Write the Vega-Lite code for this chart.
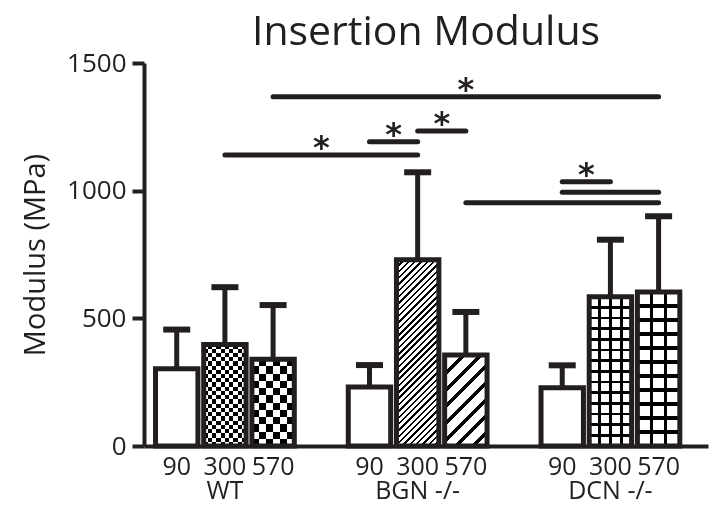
{
"$schema":"https://vega.github.io/schema/vega-lite/v6.json",
"width":564,"height":383,
"autosize":{"type":"none"},
"padding":{"left":144,"top":63,"right":6,"bottom":59},
"background":"white",
"config":{"view":{"stroke":null}},
"title":{"text":"Insertion Modulus","font":"Open Sans","fontSize":41,"fontWeight":"normal","color":"#231f20","anchor":"middle","frame":"group","baseline":"alphabetic","offset":5,"dy":41},
"datasets":{
"bars":[
{"bar":"WT 90","value":303,"err":456},
{"bar":"WT 300","value":398,"err":622},
{"bar":"WT 570","value":340,"err":552},
{"bar":"BGN 90","value":231,"err":317},
{"bar":"BGN 300","value":729,"err":1072},
{"bar":"BGN 570","value":356,"err":525},
{"bar":"DCN 90","value":228,"err":316},
{"bar":"DCN 300","value":585,"err":808},
{"bar":"DCN 570","value":603,"err":900}
],
"sig":[
{"from":"WT 570","to":"DCN 570","level":1368},
{"from":"WT 300","to":"BGN 300","level":1140},
{"from":"BGN 90","to":"BGN 300","level":1192},
{"from":"BGN 300","to":"BGN 570","level":1234},
{"from":"DCN 90","to":"DCN 300","level":1035},
{"from":"DCN 90","to":"DCN 570","level":994},
{"from":"BGN 570","to":"DCN 570","level":953}
],
"stars":[
{"at":"BGN 570","level":1368,"between":false},
{"at":"s1","level":1140,"between":false},
{"at":"BGN 90","level":1192,"between":true},
{"at":"BGN 300","level":1234,"between":true},
{"at":"DCN 90","level":1035,"between":true}
]
},
"data":{"name":"bars"},
"layer":[
{"mark":{"type":"bar","fill":"white"},
 "encoding":{
  "x":{"field":"bar","type":"nominal","scale":{"domain":["WT 90","WT 300","WT 570","s1","BGN 90","BGN 300","BGN 570","s2","DCN 90","DCN 300","DCN 570"],"paddingInner":0.12,"paddingOuter":0.412,"align":0.29},
   "axis":{"orient":"bottom","title":null,"domain":true,"domainWidth":4,"domainColor":"#231f20","ticks":false,"tickSize":0,"labelFont":"Open Sans","labelFontSize":25,"labelLineHeight":24,"labelColor":"#231f20","labelPadding":8,"labelAngle":0,"labelOverlap":false,"grid":false,"labelExpr":"datum.value == 'WT 300' ? ['300','WT'] : datum.value == 'BGN 300' ? ['300','BGN -/-'] : datum.value == 'DCN 300' ? ['300','DCN -/-'] : (indexof(datum.value,' ') > 0 ? split(datum.value,' ')[1] : '')"}},
  "y":{"field":"value","type":"quantitative","scale":{"domain":[0,1500],"nice":false,"zero":true},
   "axis":{"title":"Modulus (MPa)","values":[0,500,1000,1500],"format":"d","grid":false,"domainWidth":4,"domainColor":"#231f20","tickWidth":4,"tickSize":12,"tickColor":"#231f20","labelFont":"Open Sans","labelFontSize":26,"labelColor":"#231f20","labelPadding":6,"titleFont":"Open Sans","titleFontSize":29,"titleFontWeight":"normal","titleColor":"#231f20","titlePadding":16}}
 }},
{"transform":[{"filter":"datum.bar == 'WT 300'"}],
 "mark":{"type":"bar","fill":{"gradient":"linear","x1":0,"y1":0,"x2":1,"y2":0,"stops":[{"offset":0,"color":"#000"},{"offset":0.1,"color":"#000"},{"offset":0.1,"color":"#fff"},{"offset":0.2,"color":"#fff"},{"offset":0.2,"color":"#000"},{"offset":0.3,"color":"#000"},{"offset":0.3,"color":"#fff"},{"offset":0.4,"color":"#fff"},{"offset":0.4,"color":"#000"},{"offset":0.5,"color":"#000"},{"offset":0.5,"color":"#fff"},{"offset":0.6,"color":"#fff"},{"offset":0.6,"color":"#000"},{"offset":0.7,"color":"#000"},{"offset":0.7,"color":"#fff"},{"offset":0.8,"color":"#fff"},{"offset":0.8,"color":"#000"},{"offset":0.9,"color":"#000"},{"offset":0.9,"color":"#fff"},{"offset":1,"color":"#fff"}]}},
 "encoding":{"x":{"field":"bar","type":"nominal","scale":{"domain":["WT 90","WT 300","WT 570","s1","BGN 90","BGN 300","BGN 570","s2","DCN 90","DCN 300","DCN 570"],"paddingInner":0.12,"paddingOuter":0.412,"align":0.29}},"y":{"field":"value","type":"quantitative","scale":{"domain":[0,1500],"nice":false,"zero":true}}}},
{"transform":[{"filter":"datum.bar == 'WT 300'"}],
 "mark":{"type":"bar","blend":"difference","fill":{"gradient":"linear","x1":0,"y1":0,"x2":0,"y2":1,"stops":[{"offset":0,"color":"#fff"},{"offset":0.0417,"color":"#fff"},{"offset":0.0417,"color":"#000"},{"offset":0.0833,"color":"#000"},{"offset":0.0833,"color":"#fff"},{"offset":0.125,"color":"#fff"},{"offset":0.125,"color":"#000"},{"offset":0.1667,"color":"#000"},{"offset":0.1667,"color":"#fff"},{"offset":0.2083,"color":"#fff"},{"offset":0.2083,"color":"#000"},{"offset":0.25,"color":"#000"},{"offset":0.25,"color":"#fff"},{"offset":0.2917,"color":"#fff"},{"offset":0.2917,"color":"#000"},{"offset":0.3333,"color":"#000"},{"offset":0.3333,"color":"#fff"},{"offset":0.375,"color":"#fff"},{"offset":0.375,"color":"#000"},{"offset":0.4167,"color":"#000"},{"offset":0.4167,"color":"#fff"},{"offset":0.4583,"color":"#fff"},{"offset":0.4583,"color":"#000"},{"offset":0.5,"color":"#000"},{"offset":0.5,"color":"#fff"},{"offset":0.5417,"color":"#fff"},{"offset":0.5417,"color":"#000"},{"offset":0.5833,"color":"#000"},{"offset":0.5833,"color":"#fff"},{"offset":0.625,"color":"#fff"},{"offset":0.625,"color":"#000"},{"offset":0.6667,"color":"#000"},{"offset":0.6667,"color":"#fff"},{"offset":0.7083,"color":"#fff"},{"offset":0.7083,"color":"#000"},{"offset":0.75,"color":"#000"},{"offset":0.75,"color":"#fff"},{"offset":0.7917,"color":"#fff"},{"offset":0.7917,"color":"#000"},{"offset":0.8333,"color":"#000"},{"offset":0.8333,"color":"#fff"},{"offset":0.875,"color":"#fff"},{"offset":0.875,"color":"#000"},{"offset":0.9167,"color":"#000"},{"offset":0.9167,"color":"#fff"},{"offset":0.9583,"color":"#fff"},{"offset":0.9583,"color":"#000"},{"offset":1,"color":"#000"}]}},
 "encoding":{"x":{"field":"bar","type":"nominal","scale":{"domain":["WT 90","WT 300","WT 570","s1","BGN 90","BGN 300","BGN 570","s2","DCN 90","DCN 300","DCN 570"],"paddingInner":0.12,"paddingOuter":0.412,"align":0.29}},"y":{"field":"value","type":"quantitative","scale":{"domain":[0,1500],"nice":false,"zero":true}}}},
{"transform":[{"filter":"datum.bar == 'WT 570'"}],
 "mark":{"type":"bar","fill":{"gradient":"linear","x1":0,"y1":0,"x2":1,"y2":0,"stops":[{"offset":0,"color":"#000"},{"offset":0.1667,"color":"#000"},{"offset":0.1667,"color":"#fff"},{"offset":0.3333,"color":"#fff"},{"offset":0.3333,"color":"#000"},{"offset":0.5,"color":"#000"},{"offset":0.5,"color":"#fff"},{"offset":0.6667,"color":"#fff"},{"offset":0.6667,"color":"#000"},{"offset":0.8333,"color":"#000"},{"offset":0.8333,"color":"#fff"},{"offset":1,"color":"#fff"}]}},
 "encoding":{"x":{"field":"bar","type":"nominal","scale":{"domain":["WT 90","WT 300","WT 570","s1","BGN 90","BGN 300","BGN 570","s2","DCN 90","DCN 300","DCN 570"],"paddingInner":0.12,"paddingOuter":0.412,"align":0.29}},"y":{"field":"value","type":"quantitative","scale":{"domain":[0,1500],"nice":false,"zero":true}}}},
{"transform":[{"filter":"datum.bar == 'WT 570'"}],
 "mark":{"type":"bar","blend":"difference","fill":{"gradient":"linear","x1":0,"y1":0,"x2":0,"y2":1,"stops":[{"offset":0,"color":"#fff"},{"offset":0.0833,"color":"#fff"},{"offset":0.0833,"color":"#000"},{"offset":0.1667,"color":"#000"},{"offset":0.1667,"color":"#fff"},{"offset":0.25,"color":"#fff"},{"offset":0.25,"color":"#000"},{"offset":0.3333,"color":"#000"},{"offset":0.3333,"color":"#fff"},{"offset":0.4167,"color":"#fff"},{"offset":0.4167,"color":"#000"},{"offset":0.5,"color":"#000"},{"offset":0.5,"color":"#fff"},{"offset":0.5833,"color":"#fff"},{"offset":0.5833,"color":"#000"},{"offset":0.6667,"color":"#000"},{"offset":0.6667,"color":"#fff"},{"offset":0.75,"color":"#fff"},{"offset":0.75,"color":"#000"},{"offset":0.8333,"color":"#000"},{"offset":0.8333,"color":"#fff"},{"offset":0.9167,"color":"#fff"},{"offset":0.9167,"color":"#000"},{"offset":1,"color":"#000"}]}},
 "encoding":{"x":{"field":"bar","type":"nominal","scale":{"domain":["WT 90","WT 300","WT 570","s1","BGN 90","BGN 300","BGN 570","s2","DCN 90","DCN 300","DCN 570"],"paddingInner":0.12,"paddingOuter":0.412,"align":0.29}},"y":{"field":"value","type":"quantitative","scale":{"domain":[0,1500],"nice":false,"zero":true}}}},
{"transform":[{"filter":"datum.bar == 'BGN 300'"}],
 "mark":{"type":"bar","fill":{"gradient":"linear","x1":0,"y1":0,"x2":0.2659,"y2":1.1672,"stops":[
{"offset":0,"color":"#000"},{"offset":0.011,"color":"#000"},{"offset":0.011,"color":"#fff"},{"offset":0.0278,"color":"#fff"},
{"offset":0.0278,"color":"#000"},{"offset":0.0388,"color":"#000"},{"offset":0.0388,"color":"#fff"},{"offset":0.0556,"color":"#fff"},
{"offset":0.0556,"color":"#000"},{"offset":0.0666,"color":"#000"},{"offset":0.0666,"color":"#fff"},{"offset":0.0833,"color":"#fff"},
{"offset":0.0833,"color":"#000"},{"offset":0.0943,"color":"#000"},{"offset":0.0943,"color":"#fff"},{"offset":0.1111,"color":"#fff"},
{"offset":0.1111,"color":"#000"},{"offset":0.1221,"color":"#000"},{"offset":0.1221,"color":"#fff"},{"offset":0.1389,"color":"#fff"},
{"offset":0.1389,"color":"#000"},{"offset":0.1499,"color":"#000"},{"offset":0.1499,"color":"#fff"},{"offset":0.1667,"color":"#fff"},
{"offset":0.1667,"color":"#000"},{"offset":0.1777,"color":"#000"},{"offset":0.1777,"color":"#fff"},{"offset":0.1944,"color":"#fff"},
{"offset":0.1944,"color":"#000"},{"offset":0.2054,"color":"#000"},{"offset":0.2054,"color":"#fff"},{"offset":0.2222,"color":"#fff"},
{"offset":0.2222,"color":"#000"},{"offset":0.2332,"color":"#000"},{"offset":0.2332,"color":"#fff"},{"offset":0.25,"color":"#fff"},
{"offset":0.25,"color":"#000"},{"offset":0.261,"color":"#000"},{"offset":0.261,"color":"#fff"},{"offset":0.2778,"color":"#fff"},
{"offset":0.2778,"color":"#000"},{"offset":0.2888,"color":"#000"},{"offset":0.2888,"color":"#fff"},{"offset":0.3056,"color":"#fff"},
{"offset":0.3056,"color":"#000"},{"offset":0.3166,"color":"#000"},{"offset":0.3166,"color":"#fff"},{"offset":0.3333,"color":"#fff"},
{"offset":0.3333,"color":"#000"},{"offset":0.3443,"color":"#000"},{"offset":0.3443,"color":"#fff"},{"offset":0.3611,"color":"#fff"},
{"offset":0.3611,"color":"#000"},{"offset":0.3721,"color":"#000"},{"offset":0.3721,"color":"#fff"},{"offset":0.3889,"color":"#fff"},
{"offset":0.3889,"color":"#000"},{"offset":0.3999,"color":"#000"},{"offset":0.3999,"color":"#fff"},{"offset":0.4167,"color":"#fff"},
{"offset":0.4167,"color":"#000"},{"offset":0.4277,"color":"#000"},{"offset":0.4277,"color":"#fff"},{"offset":0.4444,"color":"#fff"},
{"offset":0.4444,"color":"#000"},{"offset":0.4554,"color":"#000"},{"offset":0.4554,"color":"#fff"},{"offset":0.4722,"color":"#fff"},
{"offset":0.4722,"color":"#000"},{"offset":0.4832,"color":"#000"},{"offset":0.4832,"color":"#fff"},{"offset":0.5,"color":"#fff"},
{"offset":0.5,"color":"#000"},{"offset":0.511,"color":"#000"},{"offset":0.511,"color":"#fff"},{"offset":0.5278,"color":"#fff"},
{"offset":0.5278,"color":"#000"},{"offset":0.5388,"color":"#000"},{"offset":0.5388,"color":"#fff"},{"offset":0.5556,"color":"#fff"},
{"offset":0.5556,"color":"#000"},{"offset":0.5666,"color":"#000"},{"offset":0.5666,"color":"#fff"},{"offset":0.5833,"color":"#fff"},
{"offset":0.5833,"color":"#000"},{"offset":0.5943,"color":"#000"},{"offset":0.5943,"color":"#fff"},{"offset":0.6111,"color":"#fff"},
{"offset":0.6111,"color":"#000"},{"offset":0.6221,"color":"#000"},{"offset":0.6221,"color":"#fff"},{"offset":0.6389,"color":"#fff"},
{"offset":0.6389,"color":"#000"},{"offset":0.6499,"color":"#000"},{"offset":0.6499,"color":"#fff"},{"offset":0.6667,"color":"#fff"},
{"offset":0.6667,"color":"#000"},{"offset":0.6777,"color":"#000"},{"offset":0.6777,"color":"#fff"},{"offset":0.6944,"color":"#fff"},
{"offset":0.6944,"color":"#000"},{"offset":0.7054,"color":"#000"},{"offset":0.7054,"color":"#fff"},{"offset":0.7222,"color":"#fff"},
{"offset":0.7222,"color":"#000"},{"offset":0.7332,"color":"#000"},{"offset":0.7332,"color":"#fff"},{"offset":0.75,"color":"#fff"},
{"offset":0.75,"color":"#000"},{"offset":0.761,"color":"#000"},{"offset":0.761,"color":"#fff"},{"offset":0.7778,"color":"#fff"},
{"offset":0.7778,"color":"#000"},{"offset":0.7888,"color":"#000"},{"offset":0.7888,"color":"#fff"},{"offset":0.8056,"color":"#fff"},
{"offset":0.8056,"color":"#000"},{"offset":0.8166,"color":"#000"},{"offset":0.8166,"color":"#fff"},{"offset":0.8333,"color":"#fff"},
{"offset":0.8333,"color":"#000"},{"offset":0.8443,"color":"#000"},{"offset":0.8443,"color":"#fff"},{"offset":0.8611,"color":"#fff"},
{"offset":0.8611,"color":"#000"},{"offset":0.8721,"color":"#000"},{"offset":0.8721,"color":"#fff"},{"offset":0.8889,"color":"#fff"},
{"offset":0.8889,"color":"#000"},{"offset":0.8999,"color":"#000"},{"offset":0.8999,"color":"#fff"},{"offset":0.9167,"color":"#fff"},
{"offset":0.9167,"color":"#000"},{"offset":0.9277,"color":"#000"},{"offset":0.9277,"color":"#fff"},{"offset":0.9444,"color":"#fff"},
{"offset":0.9444,"color":"#000"},{"offset":0.9554,"color":"#000"},{"offset":0.9554,"color":"#fff"},{"offset":0.9722,"color":"#fff"},
{"offset":0.9722,"color":"#000"},{"offset":0.9832,"color":"#000"},{"offset":0.9832,"color":"#fff"},{"offset":1,"color":"#fff"}]}},
 "encoding":{"x":{"field":"bar","type":"nominal","scale":{"domain":["WT 90","WT 300","WT 570","s1","BGN 90","BGN 300","BGN 570","s2","DCN 90","DCN 300","DCN 570"],"paddingInner":0.12,"paddingOuter":0.412,"align":0.29}},"y":{"field":"value","type":"quantitative","scale":{"domain":[0,1500],"nice":false,"zero":true}}}},
{"transform":[{"filter":"datum.bar == 'BGN 570'"}],
 "mark":{"type":"bar","fill":{"gradient":"linear","x1":0,"y1":0,"x2":0.5618,"y2":1.2044,"stops":[
{"offset":0,"color":"#000"},{"offset":0.0375,"color":"#000"},{"offset":0.0375,"color":"#fff"},{"offset":0.125,"color":"#fff"},
{"offset":0.125,"color":"#000"},{"offset":0.1625,"color":"#000"},{"offset":0.1625,"color":"#fff"},{"offset":0.25,"color":"#fff"},
{"offset":0.25,"color":"#000"},{"offset":0.2875,"color":"#000"},{"offset":0.2875,"color":"#fff"},{"offset":0.375,"color":"#fff"},
{"offset":0.375,"color":"#000"},{"offset":0.4125,"color":"#000"},{"offset":0.4125,"color":"#fff"},{"offset":0.5,"color":"#fff"},
{"offset":0.5,"color":"#000"},{"offset":0.5375,"color":"#000"},{"offset":0.5375,"color":"#fff"},{"offset":0.625,"color":"#fff"},
{"offset":0.625,"color":"#000"},{"offset":0.6625,"color":"#000"},{"offset":0.6625,"color":"#fff"},{"offset":0.75,"color":"#fff"},
{"offset":0.75,"color":"#000"},{"offset":0.7875,"color":"#000"},{"offset":0.7875,"color":"#fff"},{"offset":0.875,"color":"#fff"},
{"offset":0.875,"color":"#000"},{"offset":0.9125,"color":"#000"},{"offset":0.9125,"color":"#fff"},{"offset":1,"color":"#fff"}]}},
 "encoding":{"x":{"field":"bar","type":"nominal","scale":{"domain":["WT 90","WT 300","WT 570","s1","BGN 90","BGN 300","BGN 570","s2","DCN 90","DCN 300","DCN 570"],"paddingInner":0.12,"paddingOuter":0.412,"align":0.29}},"y":{"field":"value","type":"quantitative","scale":{"domain":[0,1500],"nice":false,"zero":true}}}},
{"transform":[{"filter":"datum.bar == 'DCN 300'"}],
 "mark":{"type":"bar","fill":{"gradient":"linear","x1":0,"y1":0,"x2":1,"y2":0,"stops":[{"offset":0,"color":"#fff"},{"offset":0.215,"color":"#fff"},{"offset":0.215,"color":"#000"},{"offset":0.285,"color":"#000"},{"offset":0.285,"color":"#fff"},{"offset":0.465,"color":"#fff"},{"offset":0.465,"color":"#000"},{"offset":0.535,"color":"#000"},{"offset":0.535,"color":"#fff"},{"offset":0.715,"color":"#fff"},{"offset":0.715,"color":"#000"},{"offset":0.785,"color":"#000"},{"offset":0.785,"color":"#fff"},{"offset":1,"color":"#fff"}]}},
 "encoding":{"x":{"field":"bar","type":"nominal","scale":{"domain":["WT 90","WT 300","WT 570","s1","BGN 90","BGN 300","BGN 570","s2","DCN 90","DCN 300","DCN 570"],"paddingInner":0.12,"paddingOuter":0.412,"align":0.29}},"y":{"field":"value","type":"quantitative","scale":{"domain":[0,1500],"nice":false,"zero":true}}}},
{"transform":[{"filter":"datum.bar == 'DCN 300'"}],
 "mark":{"type":"bar","fill":{"gradient":"linear","x1":0,"y1":0,"x2":0,"y2":1,"stops":[{"offset":0,"color":"rgba(0,0,0,0)"},
{"offset":0.0624,"color":"rgba(0,0,0,0)"},{"offset":0.0624,"color":"#000"},{"offset":0.0804,"color":"#000"},{"offset":0.0804,"color":"rgba(0,0,0,0)"},
{"offset":0.1339,"color":"rgba(0,0,0,0)"},{"offset":0.1339,"color":"#000"},{"offset":0.1519,"color":"#000"},{"offset":0.1519,"color":"rgba(0,0,0,0)"},
{"offset":0.2053,"color":"rgba(0,0,0,0)"},{"offset":0.2053,"color":"#000"},{"offset":0.2233,"color":"#000"},{"offset":0.2233,"color":"rgba(0,0,0,0)"},
{"offset":0.2767,"color":"rgba(0,0,0,0)"},{"offset":0.2767,"color":"#000"},{"offset":0.2947,"color":"#000"},{"offset":0.2947,"color":"rgba(0,0,0,0)"},
{"offset":0.3481,"color":"rgba(0,0,0,0)"},{"offset":0.3481,"color":"#000"},{"offset":0.3661,"color":"#000"},{"offset":0.3661,"color":"rgba(0,0,0,0)"},
{"offset":0.4196,"color":"rgba(0,0,0,0)"},{"offset":0.4196,"color":"#000"},{"offset":0.4376,"color":"#000"},{"offset":0.4376,"color":"rgba(0,0,0,0)"},
{"offset":0.491,"color":"rgba(0,0,0,0)"},{"offset":0.491,"color":"#000"},{"offset":0.509,"color":"#000"},{"offset":0.509,"color":"rgba(0,0,0,0)"},
{"offset":0.5624,"color":"rgba(0,0,0,0)"},{"offset":0.5624,"color":"#000"},{"offset":0.5804,"color":"#000"},{"offset":0.5804,"color":"rgba(0,0,0,0)"},
{"offset":0.6339,"color":"rgba(0,0,0,0)"},{"offset":0.6339,"color":"#000"},{"offset":0.6519,"color":"#000"},{"offset":0.6519,"color":"rgba(0,0,0,0)"},
{"offset":0.7053,"color":"rgba(0,0,0,0)"},{"offset":0.7053,"color":"#000"},{"offset":0.7233,"color":"#000"},{"offset":0.7233,"color":"rgba(0,0,0,0)"},
{"offset":0.7767,"color":"rgba(0,0,0,0)"},{"offset":0.7767,"color":"#000"},{"offset":0.7947,"color":"#000"},{"offset":0.7947,"color":"rgba(0,0,0,0)"},
{"offset":0.8481,"color":"rgba(0,0,0,0)"},{"offset":0.8481,"color":"#000"},{"offset":0.8661,"color":"#000"},{"offset":0.8661,"color":"rgba(0,0,0,0)"},
{"offset":0.9196,"color":"rgba(0,0,0,0)"},{"offset":0.9196,"color":"#000"},{"offset":0.9376,"color":"#000"},{"offset":0.9376,"color":"rgba(0,0,0,0)"},
{"offset":1,"color":"rgba(0,0,0,0)"}]}},
 "encoding":{"x":{"field":"bar","type":"nominal","scale":{"domain":["WT 90","WT 300","WT 570","s1","BGN 90","BGN 300","BGN 570","s2","DCN 90","DCN 300","DCN 570"],"paddingInner":0.12,"paddingOuter":0.412,"align":0.29}},"y":{"field":"value","type":"quantitative","scale":{"domain":[0,1500],"nice":false,"zero":true}}}},
{"transform":[{"filter":"datum.bar == 'DCN 570'"}],
 "mark":{"type":"bar","fill":{"gradient":"linear","x1":0,"y1":0,"x2":1,"y2":0,"stops":[{"offset":0,"color":"#fff"},{"offset":0.291,"color":"#fff"},{"offset":0.291,"color":"#000"},{"offset":0.376,"color":"#000"},{"offset":0.376,"color":"#fff"},{"offset":0.624,"color":"#fff"},{"offset":0.624,"color":"#000"},{"offset":0.709,"color":"#000"},{"offset":0.709,"color":"#fff"},{"offset":1,"color":"#fff"}]}},
 "encoding":{"x":{"field":"bar","type":"nominal","scale":{"domain":["WT 90","WT 300","WT 570","s1","BGN 90","BGN 300","BGN 570","s2","DCN 90","DCN 300","DCN 570"],"paddingInner":0.12,"paddingOuter":0.412,"align":0.29}},"y":{"field":"value","type":"quantitative","scale":{"domain":[0,1500],"nice":false,"zero":true}}}},
{"transform":[{"filter":"datum.bar == 'DCN 570'"}],
 "mark":{"type":"bar","fill":{"gradient":"linear","x1":0,"y1":0,"x2":0,"y2":1,"stops":[{"offset":0,"color":"rgba(0,0,0,0)"},
{"offset":0.0792,"color":"rgba(0,0,0,0)"},{"offset":0.0792,"color":"#000"},{"offset":0.1026,"color":"#000"},{"offset":0.1026,"color":"rgba(0,0,0,0)"},
{"offset":0.1701,"color":"rgba(0,0,0,0)"},{"offset":0.1701,"color":"#000"},{"offset":0.1935,"color":"#000"},{"offset":0.1935,"color":"rgba(0,0,0,0)"},
{"offset":0.261,"color":"rgba(0,0,0,0)"},{"offset":0.261,"color":"#000"},{"offset":0.2844,"color":"#000"},{"offset":0.2844,"color":"rgba(0,0,0,0)"},
{"offset":0.3519,"color":"rgba(0,0,0,0)"},{"offset":0.3519,"color":"#000"},{"offset":0.3753,"color":"#000"},{"offset":0.3753,"color":"rgba(0,0,0,0)"},
{"offset":0.4428,"color":"rgba(0,0,0,0)"},{"offset":0.4428,"color":"#000"},{"offset":0.4662,"color":"#000"},{"offset":0.4662,"color":"rgba(0,0,0,0)"},
{"offset":0.5338,"color":"rgba(0,0,0,0)"},{"offset":0.5338,"color":"#000"},{"offset":0.5572,"color":"#000"},{"offset":0.5572,"color":"rgba(0,0,0,0)"},
{"offset":0.6247,"color":"rgba(0,0,0,0)"},{"offset":0.6247,"color":"#000"},{"offset":0.6481,"color":"#000"},{"offset":0.6481,"color":"rgba(0,0,0,0)"},
{"offset":0.7156,"color":"rgba(0,0,0,0)"},{"offset":0.7156,"color":"#000"},{"offset":0.739,"color":"#000"},{"offset":0.739,"color":"rgba(0,0,0,0)"},
{"offset":0.8065,"color":"rgba(0,0,0,0)"},{"offset":0.8065,"color":"#000"},{"offset":0.8299,"color":"#000"},{"offset":0.8299,"color":"rgba(0,0,0,0)"},
{"offset":0.8974,"color":"rgba(0,0,0,0)"},{"offset":0.8974,"color":"#000"},{"offset":0.9208,"color":"#000"},{"offset":0.9208,"color":"rgba(0,0,0,0)"},
{"offset":1,"color":"rgba(0,0,0,0)"}]}},
 "encoding":{"x":{"field":"bar","type":"nominal","scale":{"domain":["WT 90","WT 300","WT 570","s1","BGN 90","BGN 300","BGN 570","s2","DCN 90","DCN 300","DCN 570"],"paddingInner":0.12,"paddingOuter":0.412,"align":0.29}},"y":{"field":"value","type":"quantitative","scale":{"domain":[0,1500],"nice":false,"zero":true}}}},
{"mark":{"type":"rule","color":"#231f20","strokeWidth":5},
 "encoding":{"x":{"field":"bar","type":"nominal","scale":{"domain":["WT 90","WT 300","WT 570","s1","BGN 90","BGN 300","BGN 570","s2","DCN 90","DCN 300","DCN 570"],"paddingInner":0.12,"paddingOuter":0.412,"align":0.29}},"y":{"field":"value","type":"quantitative","scale":{"domain":[0,1500],"nice":false,"zero":true}},"y2":{"field":"err"}}},
{"mark":{"type":"tick","color":"#231f20","size":27,"thickness":6,"opacity":1},
 "encoding":{"x":{"field":"bar","type":"nominal","scale":{"domain":["WT 90","WT 300","WT 570","s1","BGN 90","BGN 300","BGN 570","s2","DCN 90","DCN 300","DCN 570"],"paddingInner":0.12,"paddingOuter":0.412,"align":0.29}},"y":{"field":"err","type":"quantitative","scale":{"domain":[0,1500],"nice":false,"zero":true}}}},
{"mark":{"type":"bar","fill":"transparent","stroke":"#231f20","strokeWidth":5},
 "encoding":{"x":{"field":"bar","type":"nominal","scale":{"domain":["WT 90","WT 300","WT 570","s1","BGN 90","BGN 300","BGN 570","s2","DCN 90","DCN 300","DCN 570"],"paddingInner":0.12,"paddingOuter":0.412,"align":0.29}},"y":{"field":"value","type":"quantitative","scale":{"domain":[0,1500],"nice":false,"zero":true}}}},
{"data":{"name":"sig"},
 "mark":{"type":"rule","color":"#231f20","strokeWidth":5,"strokeCap":"round"},
 "encoding":{"x":{"field":"from","type":"nominal","scale":{"domain":["WT 90","WT 300","WT 570","s1","BGN 90","BGN 300","BGN 570","s2","DCN 90","DCN 300","DCN 570"],"paddingInner":0.12,"paddingOuter":0.412,"align":0.29}},"x2":{"field":"to"},"y":{"field":"level","type":"quantitative","scale":{"domain":[0,1500],"nice":false,"zero":true}}}},
{"data":{"name":"stars"},
 "transform":[{"filter":"!datum.between"}],
 "mark":{"type":"text","text":"*","font":"DejaVu Sans","fontWeight":"bold","fontSize":32,"color":"#231f20","baseline":"alphabetic","dy":3},
 "encoding":{"x":{"field":"at","type":"nominal","scale":{"domain":["WT 90","WT 300","WT 570","s1","BGN 90","BGN 300","BGN 570","s2","DCN 90","DCN 300","DCN 570"],"paddingInner":0.12,"paddingOuter":0.412,"align":0.29}},"y":{"field":"level","type":"quantitative","scale":{"domain":[0,1500],"nice":false,"zero":true}}}},
{"data":{"name":"stars"},
 "transform":[{"filter":"datum.between"}],
 "mark":{"type":"text","text":"*","font":"DejaVu Sans","fontWeight":"bold","fontSize":32,"color":"#231f20","baseline":"alphabetic","dy":3},
 "encoding":{"x":{"field":"at","type":"nominal","bandPosition":1.068,"scale":{"domain":["WT 90","WT 300","WT 570","s1","BGN 90","BGN 300","BGN 570","s2","DCN 90","DCN 300","DCN 570"],"paddingInner":0.12,"paddingOuter":0.412,"align":0.29}},"y":{"field":"level","type":"quantitative","scale":{"domain":[0,1500],"nice":false,"zero":true}}}}
]
}
